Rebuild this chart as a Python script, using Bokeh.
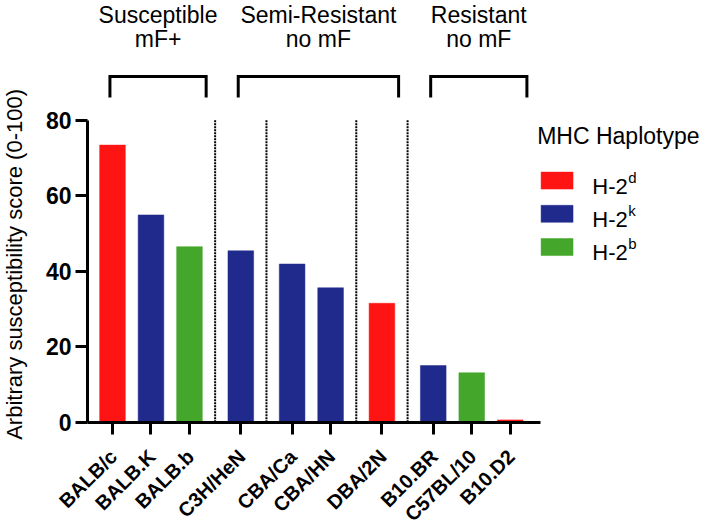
import math
from bokeh.plotting import figure
from bokeh.models import Range1d, FixedTicker, ColumnDataSource
from bokeh.embed import file_html
from bokeh.resources import INLINE
from bokeh.core.properties import value

# ---------------- data ----------------
strains = ["BALB/c", "BALB.K", "BALB.b", "C3H/HeN", "CBA/Ca", "CBA/HN",
           "DBA/2N", "B10.BR", "C57BL/10", "B10.D2"]
scores = [73.4, 54.9, 46.5, 45.4, 41.9, 35.6, 31.5, 15.0, 13.1, 0.6]
haplotypes = ["d", "k", "b", "k", "k", "k", "d", "k", "b", "d"]
separators_after = ["BALB.b", "C3H/HeN", "CBA/HN", "DBA/2N"]

group_titles = ["Susceptible", "Semi-Resistant", "Resistant"]
group_subtitles = ["mF+", "no mF", "no mF"]
group_sizes = [3, 4, 3]

hap_keys = ["d", "k", "b"]
hap_colors = ["#FF1414", "#202A8C", "#44A62A"]
legend_title = "MHC Haplotype"
y_ticks = [0, 20, 40, 60, 80]
y_label = "Arbitrary susceptibility score (0-100)"

FONT = "Liberation Sans"

# ---------------- positions ----------------
pos = []
k = 0
for i, s in enumerate(strains):
    pos.append(3 * i + k)
    if s in separators_after:
        k += 1
sep_x = [pos[strains.index(s)] + 2 for s in separators_after]
color_of = dict(zip(hap_keys, hap_colors))
bar_colors = [color_of[h] for h in haplotypes]

PX_X = 12.83            # pixels per x unit
PX_Y = 3.775            # pixels per y unit
FRAME_W = 701
FRAME_H = 530
ZERO_PX = 421.7         # screen row of y = 0
FIRST_PX = 112          # screen column of first bar centre
axis_x = -1.95          # where the y axis sits
x_start = -FIRST_PX / PX_X
x_end = x_start + FRAME_W / PX_X
y_end = ZERO_PX / PX_Y
y_start = -(FRAME_H - ZERO_PX) / PX_Y

p = figure(frame_width=FRAME_W, frame_height=FRAME_H,
           x_range=Range1d(x_start, x_end), y_range=Range1d(y_start, y_end),
           min_border_left=0, min_border_right=0,
           min_border_top=0, min_border_bottom=0,
           toolbar_location=None, output_backend="svg")
p.grid.visible = False
p.outline_line_color = None

# bars
src = ColumnDataSource(dict(x=pos, top=scores, color=bar_colors))
p.vbar(x="x", top="top", width=2, bottom=0, source=src,
       fill_color="color", line_color="color", line_width=0.5)

# dotted separators
p.segment(x0=sep_x, y0=[0] * len(sep_x), x1=sep_x, y1=[80] * len(sep_x),
          line_color="black", line_width=2, line_dash="2 1")

# group brackets and titles
b_xs, b_ys, lab_x = [], [], []
start = 0
for n in group_sizes:
    l = pos[start] - 0.2
    r = pos[start + n - 1] + 1.3
    b_xs.append([l, l, r, r])
    b_ys.append([86.0, 91.6, 91.6, 86.0])
    lab_x.append((l + r) / 2)
    start += n
p.multi_line(xs=b_xs, ys=b_ys, line_color="black", line_width=3,
             line_join="miter")
p.text(x=lab_x, y=[108.0] * 3, text=group_titles, text_font=value(FONT),
       text_font_size="23px", text_align="center", text_baseline="middle",
       text_color="black")
p.text(x=lab_x, y=[101.4] * 3, text=group_subtitles, text_font=value(FONT),
       text_font_size="23px", text_align="center", text_baseline="middle",
       text_color="black")

# axes
for ax in (p.xaxis[0], p.yaxis[0]):
    ax.axis_line_width = 3
    ax.axis_line_color = "black"
    ax.major_tick_line_width = 3
    ax.major_tick_line_color = "black"
    ax.major_tick_out = 12
    ax.major_tick_in = 0
    ax.minor_tick_out = 0
    ax.minor_tick_in = 0
    ax.major_label_text_font = FONT
    ax.major_label_text_font_style = "bold"
    ax.major_label_text_color = "black"

p.yaxis.fixed_location = axis_x
p.yaxis.ticker = FixedTicker(ticks=y_ticks)
p.yaxis.bounds = (0, 80)
p.yaxis.major_label_text_font_size = "23px"
p.yaxis.major_label_standoff = 4

p.xaxis.fixed_location = 0
p.xaxis.ticker = FixedTicker(ticks=pos)
p.xaxis.major_label_overrides = {x: "" for x in pos}
p.xaxis.bounds = (axis_x, pos[-1] + 2.35)

# y-axis title (rotated text)
p.text(x=[x_start + 1 / PX_X], y=[41.8], text=[y_label], angle=math.pi / 2,
       text_font=value(FONT), text_font_size="22px", text_align="center",
       text_baseline="top", text_color="black")

# rotated strain labels
p.text(x=[v + 1 / PX_X for v in pos], y=[-31 / PX_Y] * len(pos), text=strains,
       angle=math.pi / 4, text_font=value(FONT), text_font_style="bold",
       text_font_size="20px", text_align="right", text_baseline="middle",
       text_color="black")

# ---------------- manual legend ----------------
leg_x = pos[-1] + 2.1
item_y0 = 64.0
item_step = 8.8
item_ys = [item_y0 - item_step * i for i in range(len(hap_keys))]
p.text(x=[leg_x], y=[75.9], text=[legend_title], text_font=value(FONT),
       text_font_size="23px", text_align="left", text_baseline="middle",
       text_color="black")
p.rect(x=[leg_x + 1.55] * len(hap_keys), y=item_ys, width=2.49, height=4.5,
       fill_color=hap_colors, line_color=hap_colors, line_width=0.5)
p.text(x=[leg_x + 4.3] * len(hap_keys), y=item_ys, text=["H-2"] * len(hap_keys),
       text_font=value(FONT), text_font_size="22px", text_align="left",
       text_baseline="middle", y_offset=5.5, text_color="black")
p.text(x=[leg_x + 4.3] * len(hap_keys), y=item_ys, text=hap_keys,
       text_font=value(FONT), text_font_size="15px", text_align="left",
       text_baseline="middle", x_offset=36, y_offset=-3.5, text_color="black")

open("out.html", "w").write(file_html(p, INLINE))
